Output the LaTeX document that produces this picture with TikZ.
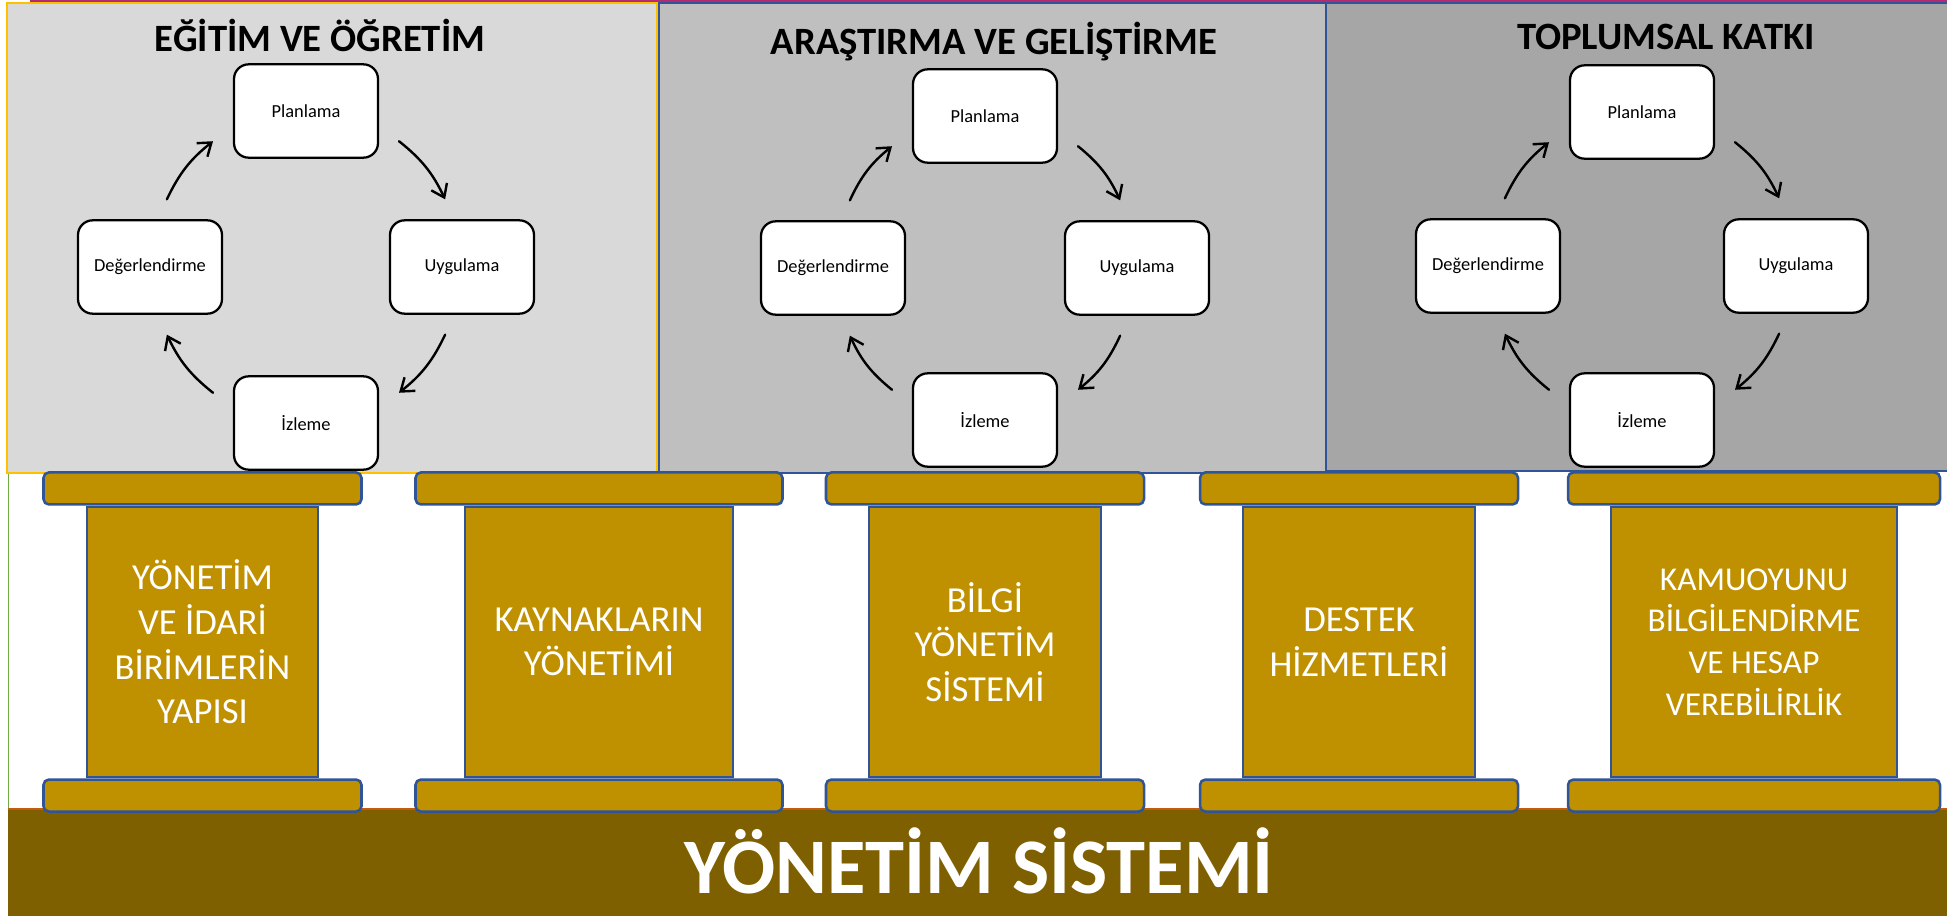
\documentclass[tikz,border=0pt]{standalone}
\usepackage{fontspec}
\setmainfont{Carlito}
\usetikzlibrary{arrows.meta}
\usetikzlibrary{positioning}
\definecolor{paneA}{HTML}{D9D9D9}
\definecolor{paneB}{HTML}{BFBFBF}
\definecolor{paneC}{HTML}{A6A6A6}
\definecolor{gold}{HTML}{BF9000}
\definecolor{groundfill}{HTML}{7F6000}
\definecolor{groundline}{HTML}{C55A11}
\definecolor{edgeblue}{HTML}{2F5597}
\definecolor{edgeyellow}{HTML}{FFC000}
\definecolor{topline}{HTML}{B22B72}
\definecolor{sideline}{HTML}{70AD47}
\tikzset{
    every node/.style={font=\fontsize{12pt}{14pt}\selectfont},
    stage/.style={draw,line width=1.7pt,fill=white,rounded corners=11pt,minimum width=108pt,minimum height=70pt,inner sep=0pt,outer sep=15.75pt,font=\fontsize{13.8pt}{16pt}\selectfont},
    cyc/.style={->,line width=1.8pt,line cap=round},
    title/.style={anchor=base,inner sep=0pt,font=\bfseries\fontsize{29pt}{32pt}\selectfont},
    shaft/.style={draw=edgeblue,line width=1.9pt,fill=gold,minimum height=202.5pt,text=white,align=center,font=\fontsize{27.5pt}{33.5pt}\selectfont},
    capital/.style={draw=edgeblue,line width=1.9pt,fill=gold,rounded corners=4pt,minimum height=24pt},
    groundbar/.style={fill=groundfill,minimum width=1456.5pt,minimum height=82pt,inner sep=0pt,text depth=5pt,text=white,font=\bfseries\fontsize{59pt}{64pt}\selectfont}
}
\begin{document}
\begin{tikzpicture}[x=0.75pt,y=-0.75pt,>={Straight Barb[length=9pt,width=13pt]}]
    \useasboundingbox (0,0) rectangle (1947,916);

    % three panels
    \draw[line width=1.9pt,draw=edgeyellow,fill=paneA] (7,3) rectangle (657,473);
    \draw[line width=1.9pt,draw=edgeblue,fill=paneB] (659,3) rectangle (1326,473);
    \draw[line width=1.9pt,draw=edgeblue,fill=paneC] (1326,3) rectangle (1962,471);
    \draw[line width=1.8pt,draw=topline] (30,0.8) -- (1947,0.8);
    \draw[line width=1.4pt,draw=sideline] (8.5,474) -- (8.5,809);

    \node[title] (t1) at (320,52) {EĞİTİM VE ÖĞRETİM};
    \node[title] (t2) at (994,55) {ARAŞTIRMA VE GELİŞTİRME};
    \node[title] (t3) at (1666,50) {TOPLUMSAL KATKI};

    % cycle 1
    \node[stage] (p1) at (306,111) {Planlama};
    \node[stage,on grid] (u1) [below right=117pt and 117pt of p1] {Uygulama};
    \node[stage,on grid] (i1) [below=234pt of p1] {İzleme};
    \node[stage,on grid] (d1) [below left=117pt and 117pt of p1] {Değerlendirme};

    \draw[cyc] (p1.-18) to[bend left=13] (u1.104);
    \draw[cyc] (u1.-104) to[bend left=13] (i1.18);
    \draw[cyc] (i1.162) to[bend left=13] (d1.-76);
    \draw[cyc] (d1.76) to[bend left=13] (p1.198);

    % cycle 2
    \node[stage] (p2) at (985,116) {Planlama};
    \node[stage,on grid] (u2) [below right=114pt and 114pt of p2] {Uygulama};
    \node[stage,on grid] (i2) [below=228pt of p2] {İzleme};
    \node[stage,on grid] (d2) [below left=114pt and 114pt of p2] {Değerlendirme};

    \draw[cyc] (p2.-18) to[bend left=13] (u2.104);
    \draw[cyc] (u2.-104) to[bend left=13] (i2.18);
    \draw[cyc] (i2.162) to[bend left=13] (d2.-76);
    \draw[cyc] (d2.76) to[bend left=13] (p2.198);

    % cycle 3
    \node[stage] (p3) at (1642,112) {Planlama};
    \node[stage,on grid] (u3) [below right=115.5pt and 115.5pt of p3] {Uygulama};
    \node[stage,on grid] (i3) [below=231pt of p3] {İzleme};
    \node[stage,on grid] (d3) [below left=115.5pt and 115.5pt of p3] {Değerlendirme};

    \draw[cyc] (p3.-18) to[bend left=13] (u3.104);
    \draw[cyc] (u3.-104) to[bend left=13] (i3.18);
    \draw[cyc] (i3.162) to[bend left=13] (d3.-76);
    \draw[cyc] (d3.76) to[bend left=13] (p3.198);

    % ground
    \node[groundbar] (g) at (979,864) {YÖNETİM SİSTEMİ};
    \draw[line width=1.4pt,draw=groundline] (g.north west) -- (g.north east);

    % pillars
    \node[shaft,minimum width=173.25pt] (s1) at (202.5,642) {YÖNETİM\\VE İDARİ\\BİRİMLERİN\\YAPISI};
    \node[capital,minimum width=238.5pt] (c1) [above=0pt of s1] {};
    \node[capital,minimum width=238.5pt] (b1) [below=0pt of s1] {};

    \node[shaft,minimum width=201pt] (s2) at (599,642) {KAYNAKLARIN\\YÖNETİMİ};
    \node[capital,minimum width=275.25pt] (c2) [above=0pt of s2] {};
    \node[capital,minimum width=275.25pt] (b2) [below=0pt of s2] {};

    \node[shaft,minimum width=174pt] (s3) at (985,642) {BİLGİ\\YÖNETİM\\SİSTEMİ};
    \node[capital,minimum width=238.5pt] (c3) [above=0pt of s3] {};
    \node[capital,minimum width=238.5pt] (b3) [below=0pt of s3] {};

    \node[shaft,minimum width=174pt] (s4) at (1359,642) {DESTEK\\HİZMETLERİ};
    \node[capital,minimum width=238.5pt] (c4) [above=0pt of s4] {};
    \node[capital,minimum width=238.5pt] (b4) [below=0pt of s4] {};

    \node[shaft,minimum width=214.5pt,font=\fontsize{25pt}{31.3pt}\selectfont] (s5) at (1754,642) {KAMUOYUNU\\BİLGİLENDİRME\\VE HESAP\\VEREBİLİRLİK};
    \node[capital,minimum width=279pt] (c5) [above=0pt of s5] {};
    \node[capital,minimum width=279pt] (b5) [below=0pt of s5] {};

\end{tikzpicture}
\end{document}
